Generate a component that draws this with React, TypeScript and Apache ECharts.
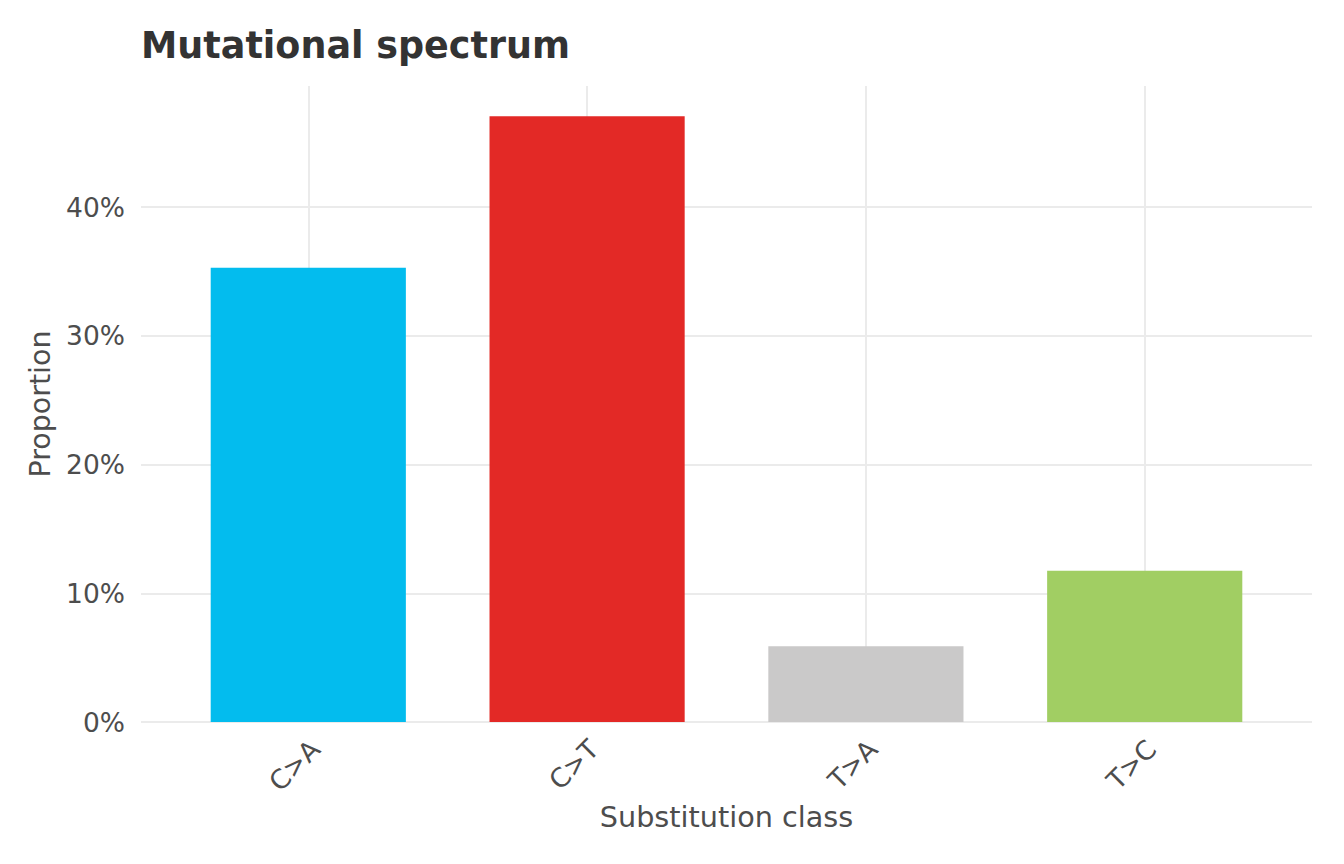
import React, { useEffect, useRef } from "react";
import * as echarts from "echarts";

const categories = ["C>A", "C>T", "T>A", "T>C"];
const proportions = [0.3529, 0.4706, 0.0588, 0.1176];
const barColors = ["#03BCEE", "#E32926", "#CAC9C9", "#A1CE63"];
const yTicks = [0, 0.1, 0.2, 0.3, 0.4];
const yMax = 0.4941;

const FONT = "DejaVu Sans";
const W = 1344;
const H = 864;
// panel in pixels
const panelLeft = 141;
const panelRight = 1312;
const panelTop = 86;
const panelBottom = 722;
const band = (panelRight - panelLeft) / (categories.length + 0.2);

export default function App() {
  const ref = useRef<HTMLDivElement>(null);
  useEffect(() => {
    document.body.style.margin = "0";
    const chart = echarts.init(ref.current!, null, { renderer: "svg" });
    chart.setOption({
      animation: false,
      backgroundColor: "#ffffff",
      title: {
        text: "Mutational spectrum",
        left: panelLeft,
        top: 27,
        padding: 0,
        textStyle: {
          fontFamily: FONT,
          fontWeight: "bold",
          fontSize: 36.5,
          color: "#333333",
        },
      },
      grid: [
        {
          left: panelLeft,
          right: W - panelRight,
          top: panelTop,
          bottom: H - panelBottom,
        },
        {
          left: panelLeft + band * 0.1,
          right: W - panelRight + band * 0.1,
          top: panelTop,
          bottom: H - panelBottom,
        },
      ],
      xAxis: [
        { gridIndex: 0, type: "value", min: 0, max: 1, show: false },
        {
          gridIndex: 1,
          type: "category",
          data: categories,
          boundaryGap: true,
          axisLine: { show: false },
          axisTick: { show: false },
          splitLine: { show: false },
          axisLabel: {
            rotate: 45,
            align: "right",
            verticalAlign: "top",
            margin: 10,
            padding: [0, 4, 0, 0],
            fontFamily: FONT,
            fontSize: 26.5,
            color: "#4D4D4D",
          },
          name: "Substitution class",
          nameLocation: "middle",
          nameGap: 73,
          nameTextStyle: {
            fontFamily: FONT,
            fontSize: 28.7,
            color: "#4D4D4D",
          },
        },
      ],
      yAxis: [
        {
          gridIndex: 0,
          type: "value",
          min: 0,
          max: yMax,
          interval: 0.1,
          axisLine: { show: false },
          axisTick: { show: false },
          splitLine: {
            show: true,
            showMaxLine: false,
            lineStyle: { color: "#EBEBEB", width: 2 },
          },
          axisLabel: {
            margin: 16,
            fontFamily: FONT,
            fontSize: 26.5,
            color: "#4D4D4D",
            showMaxLabel: false,
            formatter: (v: number) =>
              yTicks.some((t) => Math.abs(t - v) < 1e-9)
                ? `${Math.round(v * 100)}%`
                : "",
          },
          name: "Proportion",
          nameLocation: "middle",
          nameGap: 86,
          nameTextStyle: {
            fontFamily: FONT,
            fontSize: 28.5,
            color: "#4D4D4D",
          },
        },
        {
          gridIndex: 1,
          type: "value",
          min: 0,
          max: yMax,
          show: false,
        },
      ],
      series: [
        {
          type: "bar",
          xAxisIndex: 1,
          yAxisIndex: 1,
          barWidth: "70%",
          z: 3,
          data: proportions.map((v, i) => ({
            value: v,
            itemStyle: { color: barColors[i] },
          })),
          markLine: {
            silent: true,
            z: 1,
            symbol: ["none", "none"],
            label: { show: false },
            lineStyle: { color: "#EBEBEB", width: 2, type: "solid" },
            data: categories.map((c) => ({ xAxis: c })),
          },
        },
      ],
    });
    return () => chart.dispose();
  }, []);
  return (
    <div
      ref={ref}
      style={{ position: "fixed", left: 0, top: 0, width: W, height: H }}
    />
  );
}
